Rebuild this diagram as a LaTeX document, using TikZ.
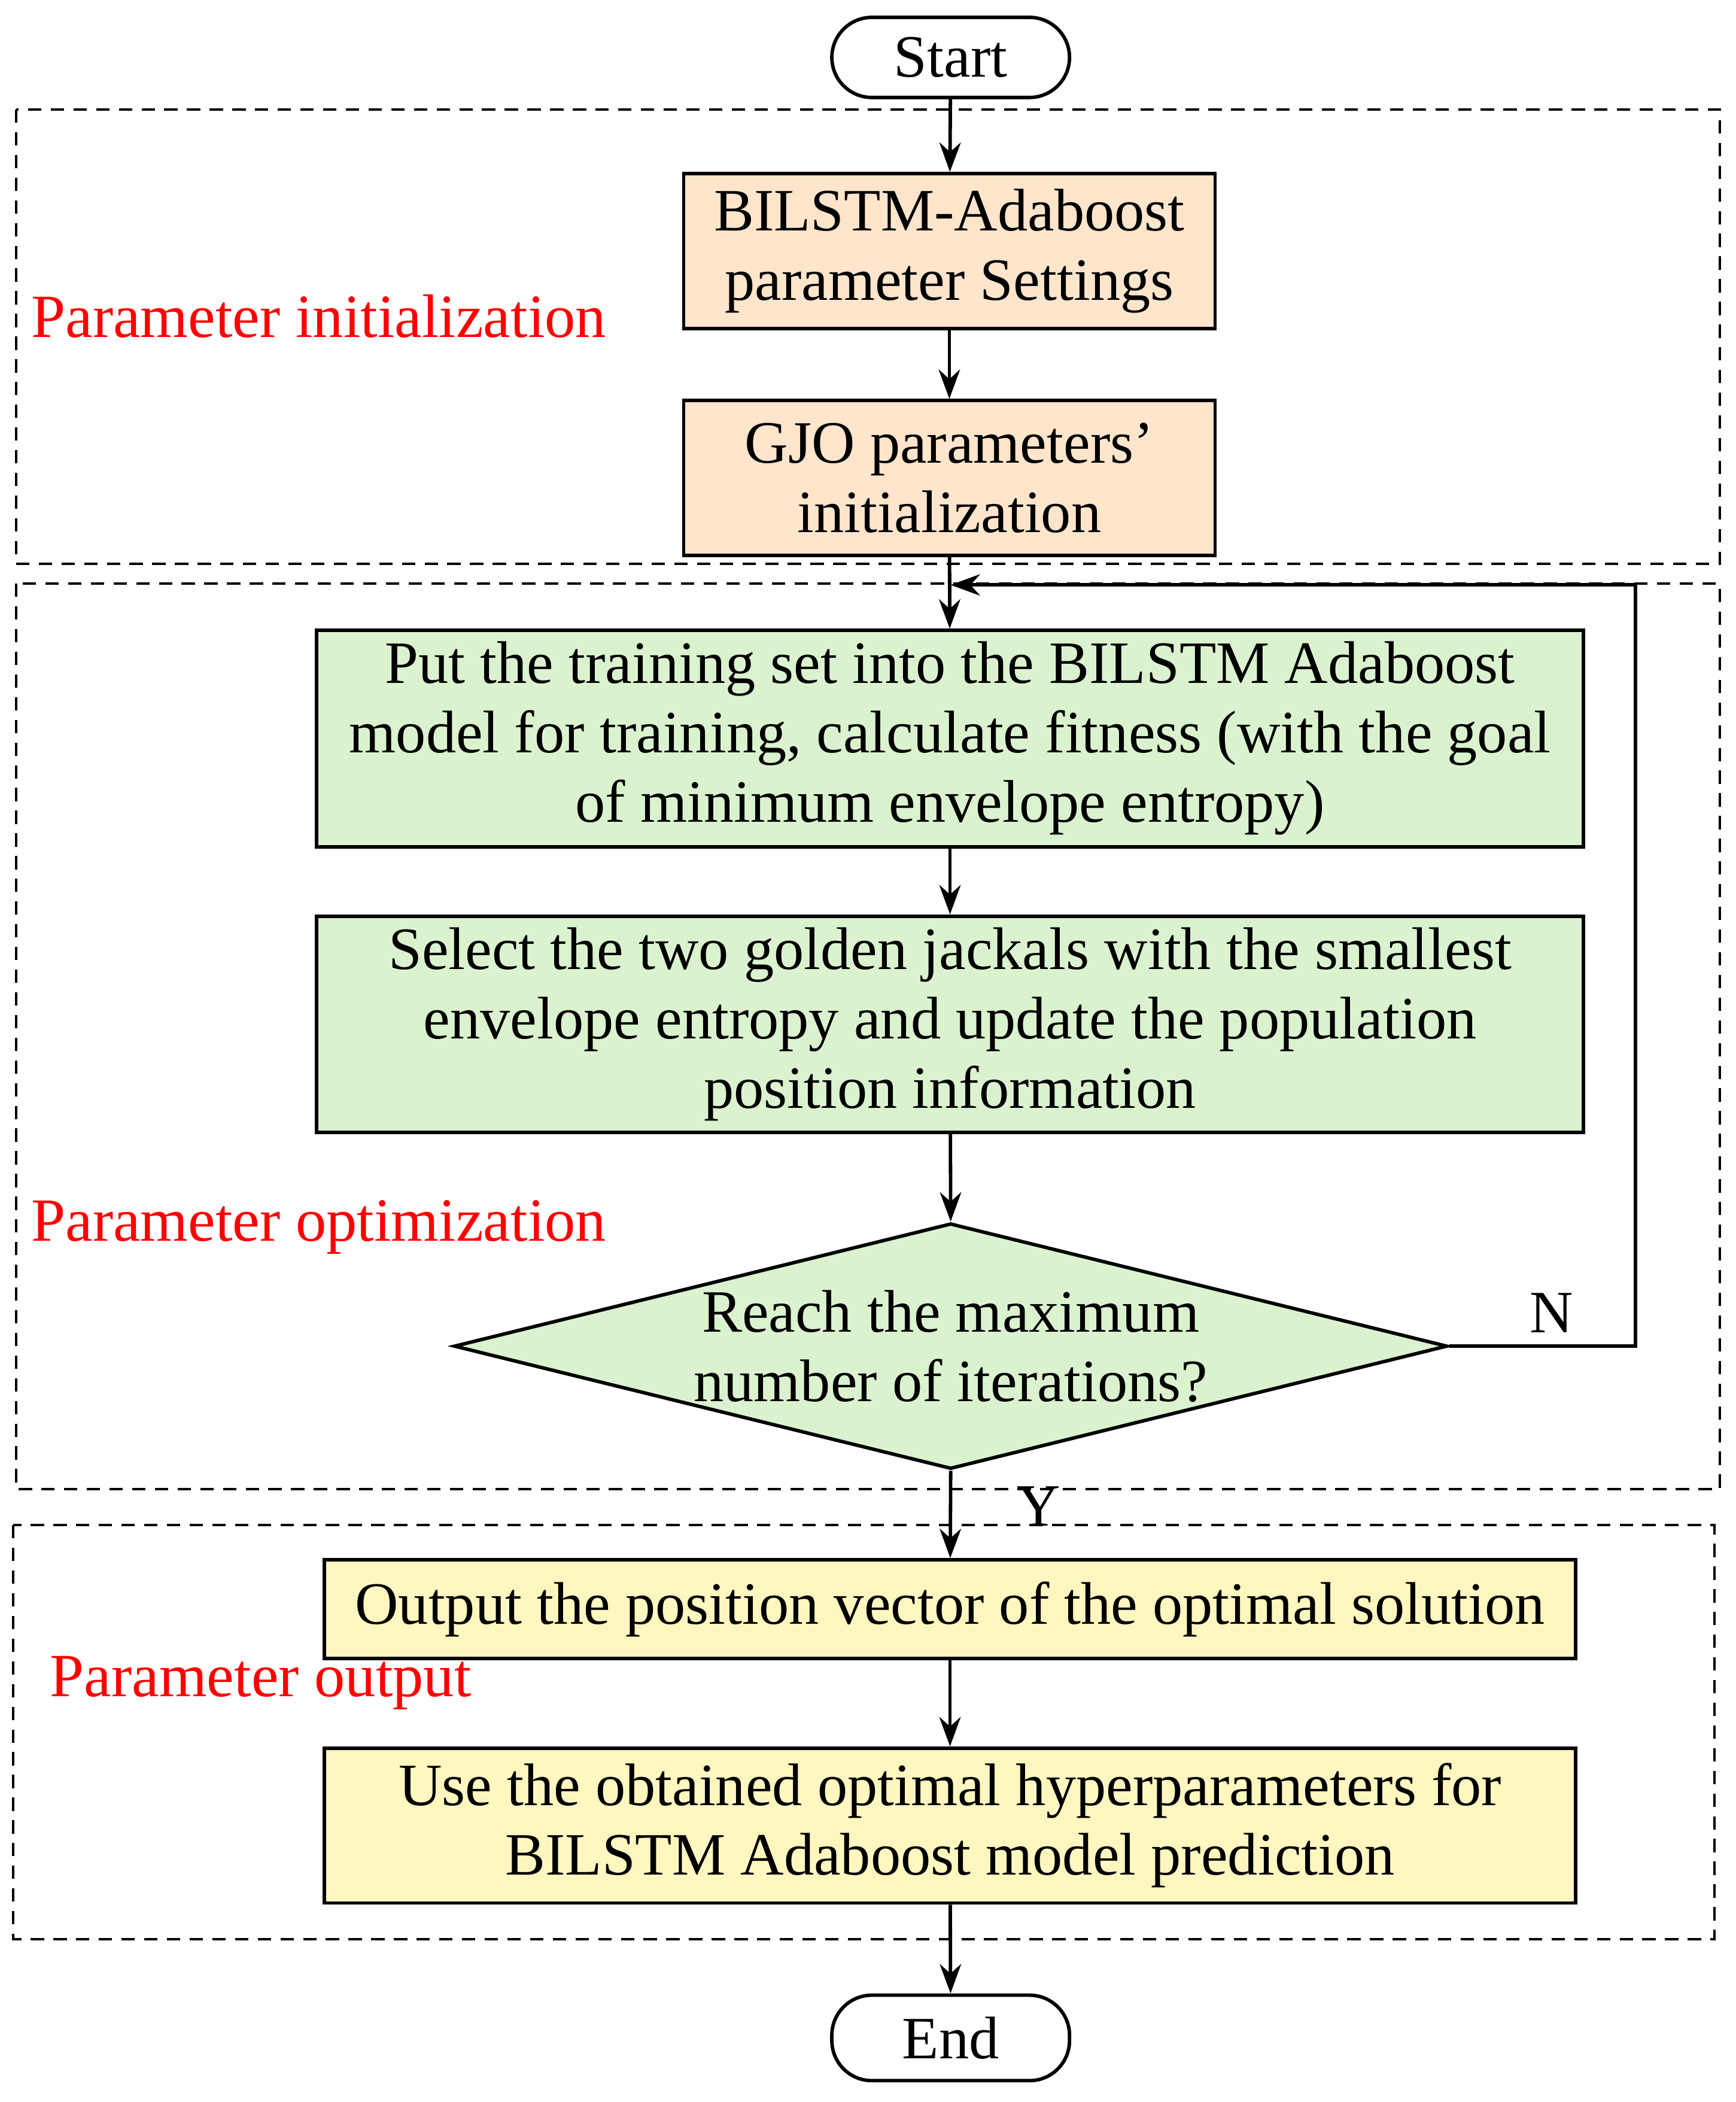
\documentclass[tikz,border=0pt]{standalone}
\usepackage{fontspec}
\setmainfont{Liberation Serif}
\usetikzlibrary{shapes.geometric,arrows.meta}
\begin{document}
\begin{tikzpicture}[x=1pt,y=-1pt,
  every node/.style={font=\fontsize{45}{52}\selectfont},
  box/.style={draw,line width=2.6pt,align=center,inner sep=0pt},
  dbox/.style={draw,line width=1.8pt,dash pattern=on 10pt off 7pt},
  arr/.style={line width=2.6pt,-{Stealth[length=22pt,width=16pt]}},
  lab/.style={text=red,anchor=west,font=\fontsize{46}{52}\selectfont}]
\useasboundingbox (0,0) rectangle (1300,1574);
\draw[dbox] (12,82) rectangle (1288,422);
\draw[dbox] (12,437) rectangle (1288,1115);
\draw[dbox] (10,1142) rectangle (1284,1452);
\node[box,rounded corners=30pt,minimum width=178pt,minimum height=60pt] (start) at (712,43) {Start};
\node[box,fill=orange!20,minimum width=398pt,minimum height=116pt] (b1) at (711,188) {BILSTM-Adaboost\\parameter Settings};
\node[box,fill=orange!20,minimum width=398pt,minimum height=116pt] (b2) at (711,358) {GJO parameters’\\initialization};
\node[box,fill=green!10!white!90!olive,minimum width=949pt,minimum height=162pt] (b3) at (711.5,553) {Put the training set into the BILSTM Adaboost\\model for training, calculate fitness (with the goal\\of minimum envelope entropy)};
\node[box,fill=green!10!white!90!olive,minimum width=949pt,minimum height=162pt] (b4) at (711.5,767) {Select the two golden jackals with the smallest\\envelope entropy and update the population\\position information};
\node[box,diamond,fill=green!10!white!90!olive,minimum width=744pt,minimum height=184pt,aspect=4] (d) at (712,1008) {};
\node at (712,1008) [align=center] {Reach the maximum\\number of iterations?};
\node[box,fill=yellow!20!white!95!orange,minimum width=937pt,minimum height=74pt] (b5) at (711.5,1205) {Output the position vector of the optimal solution};
\node[box,fill=yellow!20!white!95!orange,minimum width=937pt,minimum height=116pt] (b6) at (711.5,1367) {Use the obtained optimal hyperparameters for\\BILSTM Adaboost model prediction};
\node[box,rounded corners=30pt,minimum width=178pt,minimum height=64pt] (end) at (712,1526) {End};
\draw[arr] (start) -- (b1);
\draw[arr] (b1) -- (b2);
\draw[arr] (b2) -- (b3);
\draw[arr] (b3) -- (b4);
\draw[arr] (b4) -- (d.north);
\draw[arr] (d.south) -- (b5);
\draw[arr] (b5) -- (b6);
\draw[arr] (b6) -- (end);
\coordinate (c1) at (1225,1008);
\coordinate (c2) at (1225,438);
\coordinate (c3) at (712,438);
\draw[arr] (d.east) -- (c1) -- (c2) -- (c3);
\node at (1162,983) {N};
\node at (778,1128) {Y};
\node[lab] at (20,237) {Parameter initialization};
\node[lab] at (20,919) {Parameter optimization};
\node[lab] at (34,1260) {Parameter output};
\end{tikzpicture}
\end{document}
